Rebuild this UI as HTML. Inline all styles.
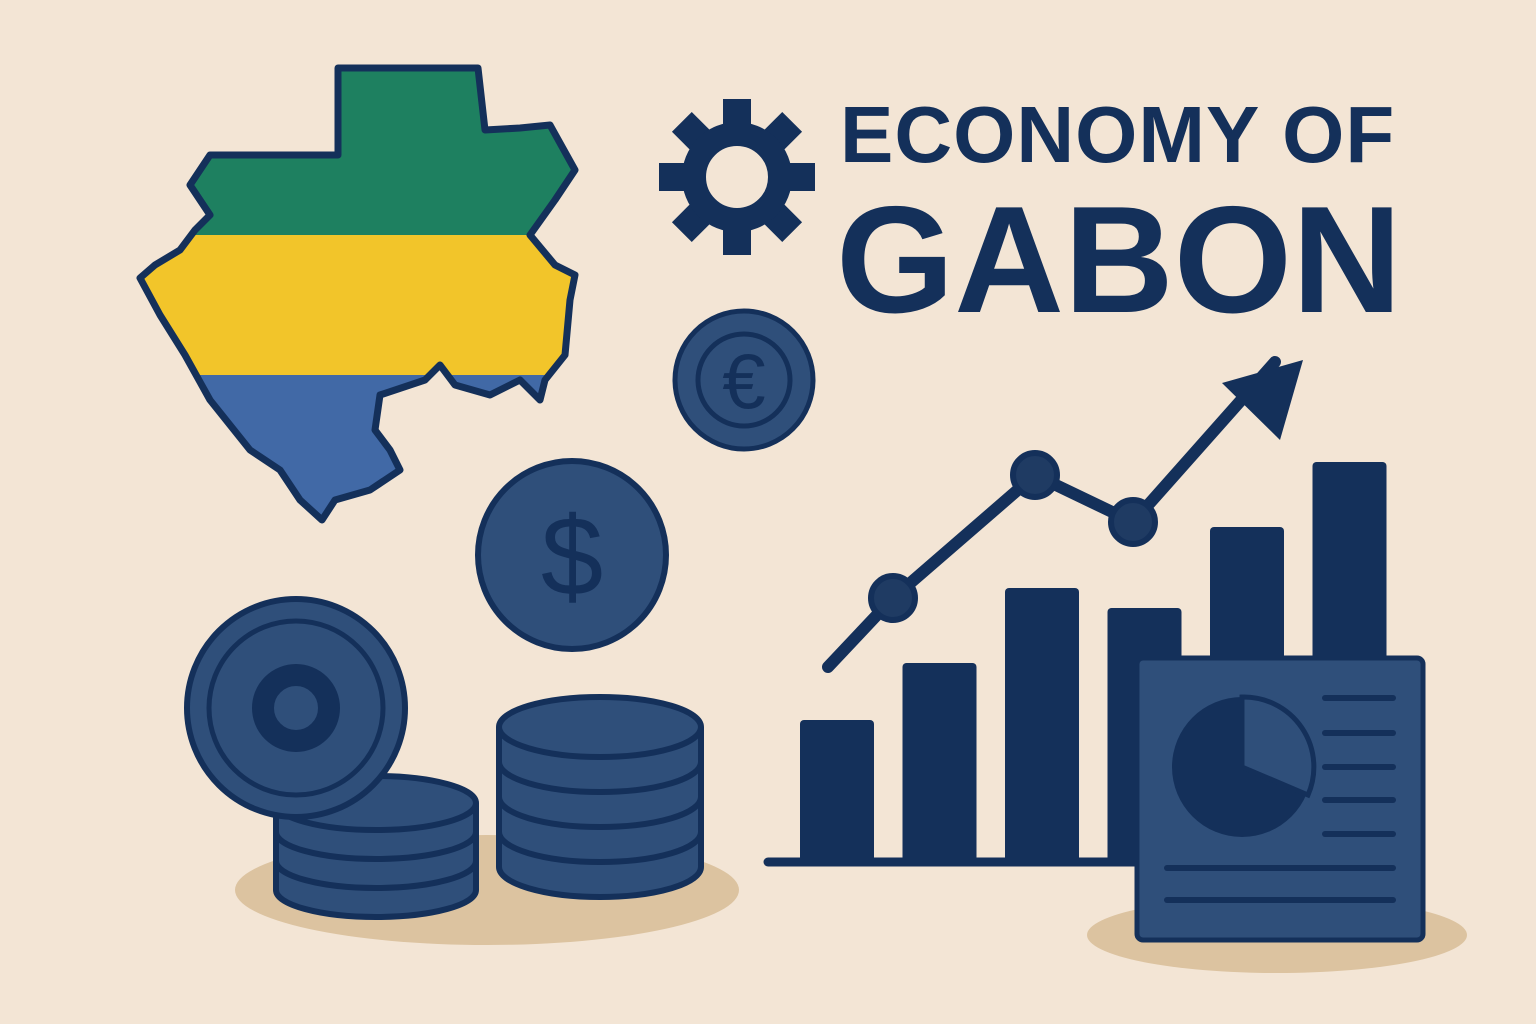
<!DOCTYPE html>
<html><head><meta charset="utf-8"><style>
html,body{margin:0;padding:0;background:#f3e5d5;}
svg{display:block;}
text{font-family:"Liberation Sans",sans-serif;font-weight:bold;fill:#14305a;}
</style></head><body>
<svg id="s" width="1536" height="1024" viewBox="0 0 1536 1024">
<rect width="1536" height="1024" fill="#f3e5d5"/>
<defs><clipPath id="mapclip"><polygon id="mp" points="338,68 478,68 485,130 520,128 550,125 575,170 555,200 530,235 555,265 575,275 570,300 565,355 545,380 540,400 520,380 490,395 455,385 440,365 425,380 380,395 375,430 390,450 400,470 370,490 335,500 322,520 300,500 280,470 250,450 210,400 185,355 160,315 140,278 155,265 180,250 195,230 210,215 190,185 210,155 338,155"/></clipPath></defs>
<g>
<g clip-path="url(#mapclip)">
<rect x="100" y="40" width="520" height="195" fill="#1e8060"/>
<rect x="100" y="235" width="520" height="140" fill="#f2c52a"/>
<rect x="100" y="375" width="520" height="180" fill="#4169a6"/>
</g>
<polygon points="338,68 478,68 485,130 520,128 550,125 575,170 555,200 530,235 555,265 575,275 570,300 565,355 545,380 540,400 520,380 490,395 455,385 440,365 425,380 380,395 375,430 390,450 400,470 370,490 335,500 322,520 300,500 280,470 250,450 210,400 185,355 160,315 140,278 155,265 180,250 195,230 210,215 190,185 210,155 338,155" fill="none" stroke="#14305a" stroke-width="7" stroke-linejoin="round"/>
</g>
<g transform="translate(737,177)">
<g fill="#14305a">
<rect x="-14" y="-78" width="28" height="30"/><rect x="-14" y="48" width="28" height="30"/>
<rect x="-78" y="-14" width="30" height="28"/><rect x="48" y="-14" width="30" height="28"/>
<rect x="-14" y="-78" width="28" height="30" transform="rotate(45)"/><rect x="-14" y="48" width="28" height="30" transform="rotate(45)"/>
<rect x="-78" y="-14" width="30" height="28" transform="rotate(45)"/><rect x="48" y="-14" width="30" height="28" transform="rotate(45)"/>
</g>
<circle r="43" fill="none" stroke="#14305a" stroke-width="24"/>
</g>
<text x="840" y="162" font-size="80" letter-spacing="1">ECONOMY OF</text>
<text x="836" y="312" font-size="152">GABON</text>
<g>
<circle cx="744" cy="380" r="69" fill="#2f4f7a" stroke="#14305a" stroke-width="5"/>
<circle cx="744" cy="380" r="46" fill="none" stroke="#14305a" stroke-width="5"/>
<text x="744" y="408" font-size="78" font-weight="normal" style="font-weight:normal" text-anchor="middle">€</text>
</g>
<ellipse cx="487" cy="890" rx="252" ry="55" fill="#dcc3a0"/>
<ellipse cx="1277" cy="935" rx="190" ry="38" fill="#dcc3a0"/>
<g>
<circle cx="572" cy="555" r="94" fill="#2f4f7a" stroke="#14305a" stroke-width="6"/>
<text x="572" y="595" font-size="112" style="font-weight:normal" text-anchor="middle">$</text>
</g>
<g id="stacks"></g>
<g>
<circle cx="296" cy="708" r="109" fill="#2f4f7a" stroke="#14305a" stroke-width="6"/>
<circle cx="296" cy="708" r="87" fill="none" stroke="#14305a" stroke-width="5"/>
<circle cx="296" cy="708" r="33" fill="none" stroke="#14305a" stroke-width="22"/>
</g>
<g id="chart"></g>
<g>
<rect x="1137" y="658" width="286" height="282" rx="6" fill="#2f4f7a" stroke="#14305a" stroke-width="5"/>
<circle cx="1242" cy="767" r="70" fill="#14305a"/>
<path d="M1242,767 L1242,697 A70,70 0 0 1 1308,795 Z" fill="#2f4f7a" stroke="#14305a" stroke-width="5"/>
<g stroke="#14305a" stroke-width="6" stroke-linecap="round">
<line x1="1325" y1="698" x2="1393" y2="698"/><line x1="1325" y1="733" x2="1393" y2="733"/>
<line x1="1325" y1="767" x2="1393" y2="767"/><line x1="1325" y1="800" x2="1393" y2="800"/>
<line x1="1325" y1="834" x2="1393" y2="834"/><line x1="1167" y1="868" x2="1393" y2="868"/>
<line x1="1167" y1="900" x2="1393" y2="900"/>
</g>
</g>
</svg>
<script>
const NS="http://www.w3.org/2000/svg";
const barCategories=["b1","b2","b3","b4","b5","b6"];
const barValues=[142,199,274,254,335,400];
const lineValues=[195,264,387,340];
const arrowValue=500;
const chart=document.getElementById('chart');
function xb(i){return 800+i*102.5;}
function yv(v){return 862-v;}
function mk(t,a,p){const e=document.createElementNS(NS,t);for(const k in a)e.setAttribute(k,a[k]);(p||chart).appendChild(e);return e;}
barValues.forEach((v,i)=>{
 const r=mk('rect',{x:xb(i),y:yv(v),width:74,height:v,rx:4,fill:'#14305a'});
 
 
});
const ax=mk('line',{x1:768,y1:862,x2:1140,y2:862,stroke:'#14305a','stroke-width':9,'stroke-linecap':'round'});


const lx=[893,1035,1133];
const pts=[[828,yv(lineValues[0])]];
lineValues.slice(1).forEach((v,i)=>pts.push([lx[i],yv(v)]));
const end=[1275,yv(arrowValue)];
const pl=mk('polyline',{points:pts.concat([end]).map(p=>p.join(',')).join(' '),fill:'none',stroke:'#14305a','stroke-width':12,'stroke-linecap':'round','stroke-linejoin':'round'});


const ah=mk('polygon',{points:`1303,360 1222,383 1280,440`,fill:'#14305a'});


pts.slice(1).forEach((p,i)=>{
 const c=mk('circle',{cx:p[0],cy:p[1],r:22,fill:'#1f3b63',stroke:'#14305a','stroke-width':6});
 
 
});
const st=document.getElementById('stacks');
function stack(cx,rx,ry,top,n,h){
 const bottom=top+n*h;
 mk('path',{d:`M${cx-rx},${top} L${cx-rx},${bottom} A${rx},${ry} 0 0 0 ${cx+rx},${bottom} L${cx+rx},${top}`,fill:'#2f4f7a',stroke:'#14305a','stroke-width':6},st);
 for(let k=1;k<n;k++)mk('path',{d:`M${cx-rx},${top+k*h} A${rx},${ry} 0 0 0 ${cx+rx},${top+k*h}`,fill:'none',stroke:'#14305a','stroke-width':6},st);
 mk('ellipse',{cx:cx,cy:top,rx:rx,ry:ry,fill:'#2f4f7a',stroke:'#14305a','stroke-width':6},st);
}
stack(376,100,27,803,3,29);
stack(600,101,30,727,4,35);
</script>
</body></html>
